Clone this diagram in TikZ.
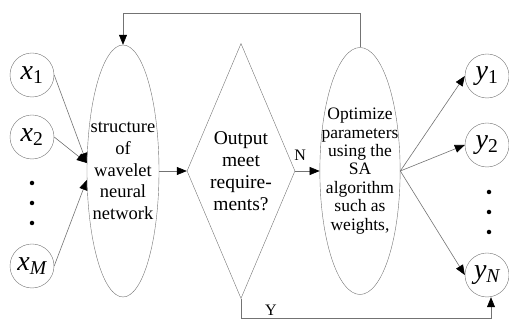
\documentclass[tikz,border=0pt]{standalone}
\usepackage{fontspec}
\setmainfont{Liberation Serif}
\usetikzlibrary{shapes.geometric,arrows.meta,positioning}
\tikzstyle{unit} = [draw=black!55, circle, minimum size=44pt, inner sep=0pt, font=\fontsize{28}{30}\selectfont\itshape]
\tikzstyle{dot} = [circle, fill=black, inner sep=0pt, minimum size=4.5pt]
\tikzstyle{block} = [draw=black!55, ellipse, inner sep=-10pt, align=center, font=\fontsize{18.5}{21.6}\selectfont]
\tikzstyle{decision} = [draw=black!55, diamond, shape aspect=0.42, inner sep=0pt, align=center, minimum width=108pt, minimum height=255pt, font=\fontsize{19.5}{22}\selectfont]
\tikzstyle{line} = [draw=black!55, line width=0.6pt]

\begin{document}
\begin{tikzpicture}[auto, x=1pt, y=1pt, node distance=118pt, >={Triangle[length=10pt,width=8pt,color=black]}, font=\fontsize{16}{19}\selectfont]
		\useasboundingbox (0,0) rectangle (509,320);
		% main chain
		\node [block, minimum width=72pt, minimum height=252pt] (wnn) at (123,149) {structure\\of\\wavelet\\neural\\network};
		\node [decision, right of=wnn] (check) {Output\\meet\\require-\\ments?};
		\node [block, right of=check, node distance=119pt, minimum width=76pt, minimum height=247pt, font=\fontsize{17.5}{18.4}\selectfont] (sa) {Optimize\\parameters\\using the\\SA\\algorithm\\such as\\weights,};

		% inputs
		\node [unit] (x1) at (32,245) {x\textsubscript{\upshape 1}};
		\node [unit, below of=x1, node distance=62pt] (x2) {x\textsubscript{\upshape 2}};
		\node [dot, below of=x2, node distance=46pt] (xd1) {};
		\node [dot, below of=xd1, node distance=20pt] (xd2) {};
		\node [dot, below of=xd2, node distance=20pt] (xd3) {};
		\node [unit, below of=xd3, node distance=43pt] (xM) {x\textsubscript{M}};

		% outputs
		\node [unit] (y1) at (487,244) {y\textsubscript{\upshape 1}};
		\node [unit, below of=y1, node distance=69pt] (y2) {y\textsubscript{\upshape 2}};
		\node [dot, below of=y2, node distance=47pt, xshift=2pt] (yd1) {};
		\node [dot, below of=yd1, node distance=20pt] (yd2) {};
		\node [dot, below of=yd2, node distance=20pt] (yd3) {};
		\node [unit, below of=yd3, node distance=43pt, xshift=-2pt] (yN) {y\textsubscript{N}};

		\draw [line, ->] (x1.east) -- ([yshift=8pt]wnn.west);
		\draw [line, ->] (x2.east) -- ([yshift=8pt]wnn.west);
		\draw [line, ->] (xM.east) -- ([yshift=-9pt]wnn.west);
		\draw [line, ->] (wnn) -- (check);
		\draw [line, ->] (check) -- node [pos=0.2, above=7pt] {N} (sa);
		\draw [line, ->] (sa.east) -- (y1.west);
		\draw [line, ->] (sa.east) -- (y2.west);
		\draw [line, ->] (sa.east) -- (yN.west);
		\draw [line, ->] (sa.north) |- ([yshift=30pt]check.north) -| (wnn.north);
		\draw [line, ->] (check.south) -- ++(0,-19.5pt) -| node [pos=0.06, inner sep=2pt] {Y} ([xshift=4pt]yN.south);
	\end{tikzpicture}
\end{document}
